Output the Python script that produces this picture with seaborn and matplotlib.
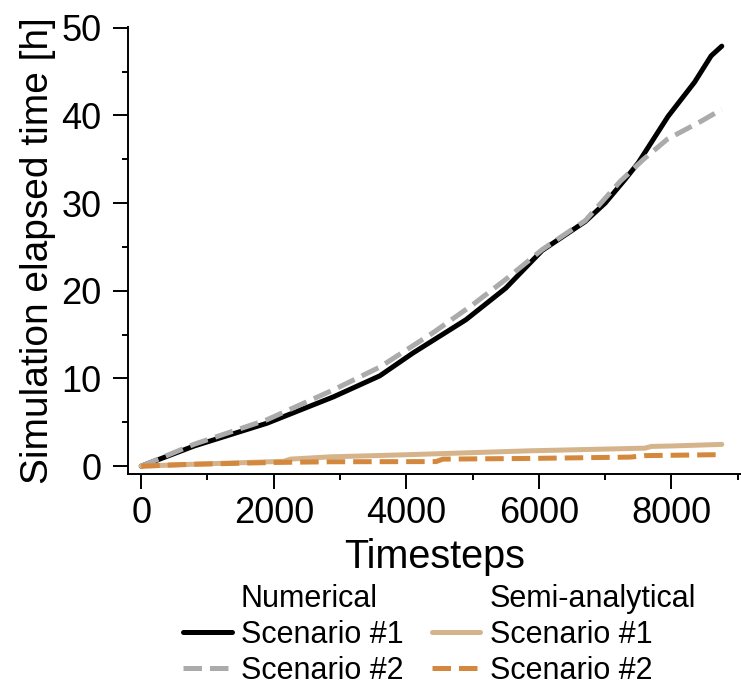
import matplotlib
matplotlib.use("Agg")
import matplotlib.pyplot as plt
from matplotlib.lines import Line2D
from matplotlib.ticker import MultipleLocator
import seaborn as sns
import pandas as pd

# Elapsed simulation time [h] against number of timesteps
num_s1_steps = [0, 800, 1900, 2900, 3600, 4100, 4900, 5500, 6050, 6700, 7000, 7300, 7500, 7950, 8350, 8600, 8760]
num_s1_hours = [0, 2.3, 4.9, 7.9, 10.3, 12.9, 16.7, 20.3, 24.6, 27.9, 30.0, 32.7, 34.6, 39.9, 43.8, 46.8, 47.9]

num_s2_steps = [0, 800, 1900, 2900, 3600, 4400, 5000, 5500, 6050, 6700, 7230, 7580, 7940, 8440, 8760]
num_s2_hours = [0, 2.5, 5.3, 8.7, 11.3, 15.2, 18.4, 21.3, 24.7, 28.0, 32.5, 35.0, 37.3, 39.3, 40.7]

semi_s1_steps = [0, 850, 2150, 2250, 2850, 4000, 5870, 7600, 7700, 8000, 8760]
semi_s1_hours = [0, 0.23, 0.55, 0.8, 1.06, 1.3, 1.75, 2.05, 2.25, 2.3, 2.48]

semi_s2_steps = [0, 700, 2000, 2850, 4450, 4550, 5870, 7380, 7600, 8630, 8760]
semi_s2_hours = [0, 0.2, 0.42, 0.5, 0.52, 0.8, 0.88, 1.03, 1.2, 1.3, 1.3]

group_titles = ["Numerical", "Semi-analytical"]
scenario_labels = ["Scenario #1", "Scenario #2"]

sns.set_theme(style="ticks")
plt.rcParams["font.family"] = ["Liberation Sans", "DejaVu Sans"]
plt.rcParams["text.color"] = "black"
plt.rcParams["axes.labelcolor"] = "black"

fig = plt.figure(figsize=(7.41, 6.89), dpi=100)
ax = fig.add_axes([0.1727, 0.312, 0.8273, 0.649])

series = [
    (num_s1_steps, num_s1_hours, "#000000", "-"),
    (num_s2_steps, num_s2_hours, "#ABABAB", "--"),
    (semi_s1_steps, semi_s1_hours, "#D5B48C", "-"),
    (semi_s2_steps, semi_s2_hours, "#D4883D", "--"),
]
lw = 3.6
for steps, hours, color, ls in series:
    df = pd.DataFrame({"steps": steps, "hours": hours})
    sns.lineplot(data=df, x="steps", y="hours", color=color, linestyle=ls,
                 linewidth=lw, ax=ax, estimator=None, sort=False)

ax.set_xlim(-200, 9050)
ax.set_ylim(-0.9, 50.1)
ax.xaxis.set_major_locator(MultipleLocator(2000))
ax.xaxis.set_minor_locator(MultipleLocator(1000))
ax.yaxis.set_major_locator(MultipleLocator(10))
ax.yaxis.set_minor_locator(MultipleLocator(5))

sns.despine(ax=ax)
for side in ("left", "bottom"):
    ax.spines[side].set_linewidth(1.4)
    ax.spines[side].set_color("black")

ax.tick_params(which="major", direction="out", length=11, width=1.4,
               labelsize=26, colors="black")
ax.tick_params(which="minor", direction="out", length=4.5, width=1.4, colors="black")
ax.tick_params(axis="x", which="major", pad=5)
ax.tick_params(axis="y", which="major", pad=8)

ax.set_xlabel("Timesteps", fontsize=28.5, labelpad=5)
ax.set_ylabel("Simulation elapsed time [h]", fontsize=28, labelpad=4)

blank = Line2D([], [], color="none")
handles = [
    blank,
    Line2D([], [], color=series[0][2], linestyle="-", linewidth=lw),
    Line2D([], [], color=series[1][2], linestyle="--", linewidth=lw),
    blank,
    Line2D([], [], color=series[2][2], linestyle="-", linewidth=lw),
    Line2D([], [], color=series[3][2], linestyle="--", linewidth=lw),
]
labels = [group_titles[0], scenario_labels[0], scenario_labels[1],
          group_titles[1], scenario_labels[0], scenario_labels[1]]
fig.legend(handles, labels, ncol=2, loc="upper center",
           bbox_to_anchor=(0.593, 0.153), frameon=False, fontsize=22,
           handlelength=1.6, handletextpad=0.3, columnspacing=0.92,
           labelspacing=0.2, borderpad=0, borderaxespad=0)

fig.savefig("out.png", dpi=100)
